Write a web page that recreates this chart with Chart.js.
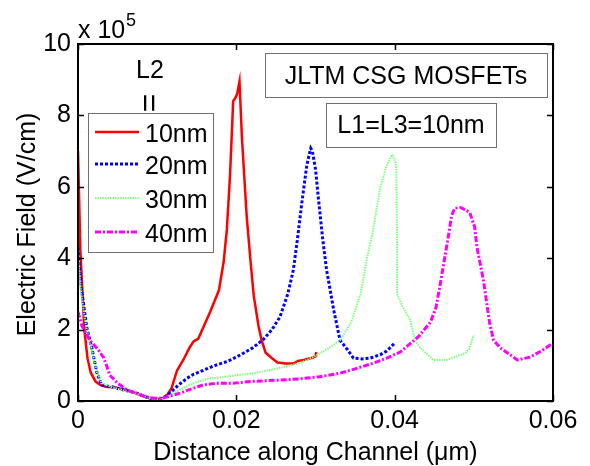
<!DOCTYPE html>
<html>
<head>
<meta charset="utf-8">
<script src="https://cdn.jsdelivr.net/npm/chart.js@4/dist/chart.umd.min.js"></script>
<style>
  html, body { margin: 0; padding: 0; background: #fff; }
  canvas { display: block; }
</style>
</head>
<body>
<canvas id="c" width="590" height="466"></canvas>
<script>
// ---- Data (field in units of 1e5 V/cm, distance in um) ----
const seriesLabels = ["10nm", "20nm", "30nm", "40nm"];
const xTicks = [0, 0.02, 0.04, 0.06];
const yTicks = [0, 2, 4, 6, 8, 10];

const x10 = [0, 0.0003, 0.0008, 0.0012, 0.0016, 0.0022, 0.0028, 0.0035, 0.0047, 0.0055, 0.007, 0.008, 0.009, 0.0105, 0.0112, 0.0118, 0.0125, 0.0133, 0.0141, 0.0146, 0.0152, 0.0167, 0.0178, 0.0184, 0.0188, 0.0192, 0.0196, 0.0199, 0.0201, 0.0204, 0.0207, 0.0213, 0.0218, 0.0222, 0.0228, 0.0232, 0.0237, 0.0245, 0.0252, 0.0262, 0.0272, 0.0278, 0.0285, 0.0297, 0.0300, 0.0301];
const y10 = [7.0, 4.2, 2.0, 1.2, 0.8, 0.55, 0.45, 0.4, 0.38, 0.33, 0.25, 0.15, 0.08, 0.05, 0.15, 0.35, 0.85, 1.15, 1.5, 1.67, 1.75, 2.5, 3.1, 3.9, 4.8, 6.3, 8.4, 8.5, 8.6, 8.95, 7.4, 5.2, 3.9, 2.95, 2.1, 1.7, 1.35, 1.2, 1.08, 1.05, 1.05, 1.12, 1.15, 1.22, 1.25, 1.37];

const x20 = [0, 0.0004, 0.0011, 0.0018, 0.0024, 0.003, 0.0044, 0.006, 0.0074, 0.0085, 0.0095, 0.0103, 0.011, 0.0116, 0.0127, 0.0138, 0.0146, 0.0154, 0.0171, 0.019, 0.0205, 0.022, 0.0234, 0.0245, 0.0255, 0.0265, 0.0272, 0.0277, 0.0283, 0.0289, 0.0292, 0.0294, 0.0296, 0.030, 0.0304, 0.0309, 0.0314, 0.0323, 0.0331, 0.034, 0.0348, 0.0358, 0.0369, 0.0382, 0.039, 0.040];
const y20 = [4.3, 3.2, 2.07, 1.43, 0.78, 0.45, 0.39, 0.3, 0.22, 0.12, 0.06, 0.04, 0.12, 0.22, 0.45, 0.64, 0.75, 0.82, 0.98, 1.12, 1.29, 1.48, 1.72, 2.0, 2.35, 3.0, 3.67, 4.5, 5.6, 6.6, 6.9, 7.08, 7.0, 6.5, 5.6, 4.56, 3.67, 2.55, 1.7, 1.45, 1.2, 1.18, 1.2, 1.3, 1.4, 1.62];

const x30 = [0, 0.0004, 0.0011, 0.0018, 0.0024, 0.003, 0.0044, 0.006, 0.0074, 0.0087, 0.0097, 0.0105, 0.0115, 0.013, 0.0146, 0.0163, 0.0185, 0.0222, 0.025, 0.028, 0.0297, 0.0315, 0.0331, 0.0345, 0.0357, 0.0365, 0.0372, 0.0382, 0.039, 0.0397, 0.0401, 0.0402, 0.0403, 0.0403, 0.041, 0.0419, 0.0426, 0.0432, 0.0449, 0.0466, 0.0489, 0.0494, 0.050];
const y30 = [4.0, 3.0, 2.0, 1.4, 0.8, 0.5, 0.38, 0.28, 0.2, 0.1, 0.05, 0.05, 0.15, 0.33, 0.5, 0.62, 0.68, 0.78, 0.9, 1.06, 1.23, 1.45, 1.7, 2.2, 3.0, 4.0, 4.7, 6.0, 6.6, 6.9, 6.7, 6.5, 4.5, 3.0, 2.65, 2.3, 1.7, 1.5, 1.15, 1.15, 1.34, 1.45, 1.85];

const x40 = [0, 0.0005, 0.0015, 0.0025, 0.0032, 0.0036, 0.004, 0.005, 0.0062, 0.0075, 0.0087, 0.0097, 0.0107, 0.0118, 0.0129, 0.0138, 0.0158, 0.0175, 0.0196, 0.022, 0.025, 0.028, 0.0305, 0.0331, 0.035, 0.0373, 0.039, 0.0407, 0.043, 0.0445, 0.0452, 0.0457, 0.0462, 0.0467, 0.0472, 0.0476, 0.0483, 0.049, 0.0495, 0.0501, 0.0504, 0.0512, 0.052, 0.0525, 0.0534, 0.0555, 0.0571, 0.0585, 0.060];
const y40 = [2.5, 2.1, 1.7, 1.45, 1.23, 1.0, 0.73, 0.5, 0.31, 0.2, 0.11, 0.08, 0.08, 0.15, 0.22, 0.3, 0.45, 0.5, 0.5, 0.55, 0.58, 0.62, 0.68, 0.78, 0.9, 1.06, 1.2, 1.37, 1.8, 2.2, 2.6, 3.2, 3.85, 4.5, 5.2, 5.4, 5.42, 5.35, 5.27, 4.88, 4.3, 3.4, 2.18, 1.7, 1.48, 1.15, 1.23, 1.4, 1.62];

const pairs = (xs, ys) => xs.map((x, i) => ({ x: x, y: ys[i] }));

const FONT = "'Liberation Sans', Arial, Helvetica, sans-serif";

const styles = [
  { color: '#ff0000', width: 2.5, dash: [] },
  { color: '#0000ff', width: 3, dash: [3, 2] },
  { color: '#80ff80', width: 2, dash: [1.5, 1] },
  { color: '#ff00ff', width: 3, dash: [6, 2, 2, 2] }
];

const allX = [x10, x20, x30, x40];
const allY = [y10, y20, y30, y40];

const datasets = seriesLabels.map((lab, i) => ({
  label: lab,
  data: pairs(allX[i], allY[i]),
  borderColor: styles[i].color,
  borderWidth: styles[i].width,
  borderDash: styles[i].dash,
  pointRadius: 0,
  fill: false,
  tension: 0,
  order: 4 - i
}));

const decor = {
  id: 'decor',
  afterDatasetsDraw(chart) {
    const ctx = chart.ctx;
    const a = chart.chartArea;
    const xs = chart.scales.x, ys = chart.scales.y;
    ctx.save();
    // frame
    ctx.strokeStyle = '#000';
    ctx.lineWidth = 2;
    ctx.setLineDash([]);
    ctx.strokeRect(a.left, a.top, a.right - a.left, a.bottom - a.top);
    // inward ticks
    const tl = 6;
    ctx.lineWidth = 1.5;
    ctx.beginPath();
    xTicks.forEach(v => {
      const px = Math.round(xs.getPixelForValue(v)) + 0.5;
      ctx.moveTo(px, a.bottom); ctx.lineTo(px, a.bottom - tl);
      ctx.moveTo(px, a.top); ctx.lineTo(px, a.top + tl);
    });
    yTicks.forEach(v => {
      const py = Math.round(ys.getPixelForValue(v)) + 0.5;
      ctx.moveTo(a.left, py); ctx.lineTo(a.left + tl, py);
      ctx.moveTo(a.right, py); ctx.lineTo(a.right - tl, py);
    });
    ctx.stroke();

    ctx.fillStyle = '#000';
    // axis titles
    ctx.font = '25px ' + FONT;
    ctx.textAlign = 'center';
    ctx.textBaseline = 'alphabetic';
    ctx.fillText('Distance along Channel (\u03bcm)', (a.left + a.right) / 2, 460);
    ctx.save();
    ctx.translate(35, (a.top + a.bottom) / 2 + 2);
    ctx.rotate(-Math.PI / 2);
    ctx.fillText('Electric Field (V/cm)', 0, 0);
    ctx.restore();
    // exponent
    ctx.textAlign = 'left';
    ctx.fillText('x 10', 78, 38);
    ctx.font = '18px ' + FONT;
    ctx.fillText('5', 126, 26);

    // annotation boxes
    function box(x, y, w, h) {
      ctx.fillStyle = '#fff';
      ctx.fillRect(x, y, w, h);
      ctx.strokeStyle = '#707070';
      ctx.lineWidth = 1;
      ctx.strokeRect(x + 0.5, y + 0.5, w, h);
      ctx.fillStyle = '#000';
    }
    ctx.font = '25px ' + FONT;
    ctx.textAlign = 'center';
    box(265, 53, 282, 44);
    ctx.fillText('JLTM CSG MOSFETs', 406, 84);
    box(326, 103, 170, 44);
    ctx.fillText('L1=L3=10nm', 411, 133);

    // legend
    ctx.fillText('L2', 150, 78);
    ctx.save();
    ctx.translate(148, 103);
    ctx.rotate(Math.PI / 2);
    ctx.font = '32px ' + FONT;
    ctx.textBaseline = 'middle';
    ctx.fillText('=', 0, 0);
    ctx.restore();
    ctx.font = '25px ' + FONT;
    box(88, 113, 125, 139);
    const ly = [132, 164, 198, 232];
    seriesLabels.forEach((lab, i) => {
      ctx.strokeStyle = styles[i].color;
      ctx.lineWidth = styles[i].width;
      ctx.setLineDash(styles[i].dash);
      ctx.beginPath();
      ctx.moveTo(95, ly[i]); ctx.lineTo(139, ly[i]);
      ctx.stroke();
      ctx.setLineDash([]);
      ctx.fillStyle = '#000';
      ctx.textAlign = 'left';
      ctx.fillText(lab, 145, ly[i] + 10);
    });
    ctx.restore();
  }
};

new Chart(document.getElementById('c'), {
  type: 'line',
  data: { datasets: datasets },
  options: {
    responsive: false,
    animation: false,
    devicePixelRatio: 1,
    layout: { padding: { top: 44, right: 37, left: 0, bottom: 0 } },
    plugins: { legend: { display: false }, tooltip: { enabled: false } },
    scales: {
      x: {
        type: 'linear', min: 0, max: 0.06,
        ticks: {
          stepSize: 0.02, padding: 5, maxRotation: 0, autoSkip: false, color: '#000',
          font: { family: FONT, size: 25 },
          callback: v => String(Math.round(v * 100) / 100)
        },
        grid: { display: false, drawTicks: false },
        border: { display: false },
        afterFit: s => { s.height = 65; }
      },
      y: {
        type: 'linear', min: 0, max: 10,
        ticks: {
          stepSize: 2, padding: 7, color: '#000',
          font: { family: FONT, size: 25 },
          callback: v => String(v)
        },
        grid: { display: false, drawTicks: false },
        border: { display: false },
        afterFit: s => { s.width = 78; }
      }
    }
  },
  plugins: [decor]
});
</script>
</body>
</html>
